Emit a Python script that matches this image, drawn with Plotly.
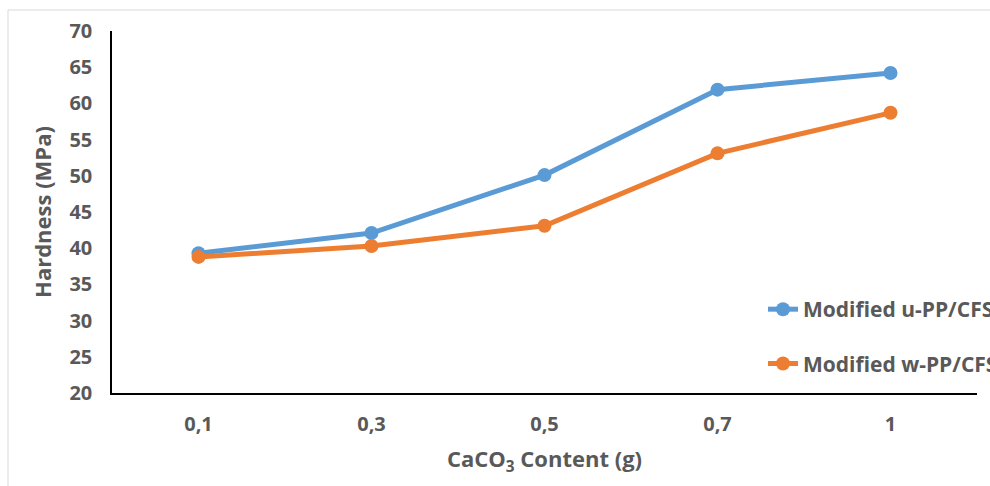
import plotly.graph_objects as go

categories = ["0,1", "0,3", "0,5", "0,7", "1"]
u_pp_cfs = [39.3, 42.1, 50.1, 61.9, 64.2]
w_pp_cfs = [38.8, 40.3, 43.1, 53.1, 58.7]
y_ticks = [20, 25, 30, 35, 40, 45, 50, 55, 60, 65, 70]

FONT = "Open Sans"
GRAY = "#595959"

fig = go.Figure()
fig.add_trace(go.Scatter(
    x=categories, y=u_pp_cfs, mode="lines+markers", name="<b>Modified u-PP/CFS</b>",
    line=dict(color="#5B9BD5", width=5), marker=dict(size=14, color="#5B9BD5"),
    legendgroup="a"))
fig.add_trace(go.Scatter(
    x=categories, y=w_pp_cfs, mode="lines+markers", name="<b>Modified w-PP/CFS</b>",
    line=dict(color="#ED7D31", width=5), marker=dict(size=14, color="#ED7D31"),
    legendgroup="b"))

fig.update_layout(
    width=990, height=486,
    margin=dict(l=112, r=13, t=31, b=93, autoexpand=False),
    paper_bgcolor="white", plot_bgcolor="white",
    font=dict(family=FONT, color=GRAY, size=20),
    showlegend=True,
    legend=dict(x=(763 - 112) / 865, y=0.156, xanchor="left", yanchor="middle",
                font=dict(family=FONT, size=21, color=GRAY),
                bgcolor="rgba(0,0,0,0)", tracegroupgap=24),
    xaxis=dict(type="category", range=[-0.5, 4.5], showline=True, linecolor="black",
               linewidth=1.5, showgrid=False, ticks="", zeroline=False,
               tickfont=dict(family=FONT, size=20, color=GRAY, weight="bold"),
               ticklabelstandoff=12,
               title=dict(text="<b>CaCO<sub>3</sub> Content (g)</b>", standoff=16,
                          font=dict(family=FONT, size=22, color=GRAY))),
    yaxis=dict(range=[20, 70], tickvals=y_ticks, showline=True, linecolor="black",
               linewidth=1.5, showgrid=False, ticks="", zeroline=False,
               tickfont=dict(family=FONT, size=20, color=GRAY, weight="bold"),
               ticklabelstandoff=14,
               title=dict(text="<b>Hardness (MPa)</b>", standoff=12,
                          font=dict(family=FONT, size=22, color=GRAY))),
)

fig.add_shape(type="rect", xref="paper", yref="paper",
              x0=(8 - 112) / 865, x1=1.2, y0=-0.5, y1=(393 - 10) / 362,
              line=dict(color="#d9d9d9", width=1), layer="below")

fig.write_html("out.html")
